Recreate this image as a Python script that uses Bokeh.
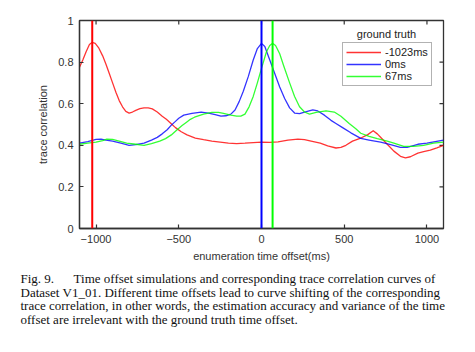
import math
from bokeh.plotting import figure
from bokeh.models import (Span, Label, Legend, LegendItem, Title,
                          FixedTicker, Range1d)
from bokeh.embed import file_html
from bokeh.resources import INLINE

# ---------------- data ----------------
x_ticks = [-1000, -500, 0, 500, 1000]
y_ticks = [0, 0.2, 0.4, 0.6, 0.8, 1]
y_tick_labels = ["0", "0.2", "0.4", "0.6", "0.8", "1"]

series_names = ["-1023ms", "0ms", "67ms"]
ground_truth = [-1023, 0, 67]
colors = ["#ff0000", "#0000ff", "#00ff00"]

red_x = [-1100, -1080, -1060, -1040, -1023, -1005, -985, -960, -940, -920,
         -900, -880, -860, -840, -820, -800, -780, -760, -735, -710, -685,
         -660, -630, -600, -575, -547, -520, -485, -450, -400, -350, -300,
         -250, -200, -150, -100, -50, 0, 50, 100, 160, 220, 260, 300, 355,
         400, 450, 480, 510, 550, 600, 640, 675, 700, 730, 760, 800, 840,
         870, 900, 945, 980, 1020, 1060, 1100]
red_y = [0.775, 0.81, 0.85, 0.885, 0.895, 0.89, 0.87, 0.83, 0.79, 0.745,
         0.70, 0.655, 0.615, 0.585, 0.563, 0.555, 0.56, 0.568, 0.576, 0.58,
         0.58, 0.575, 0.56, 0.54, 0.525, 0.505, 0.485, 0.465, 0.45, 0.435,
         0.427, 0.42, 0.415, 0.41, 0.408, 0.41, 0.413, 0.415, 0.414, 0.416,
         0.425, 0.43, 0.427, 0.42, 0.41, 0.397, 0.387, 0.39, 0.40, 0.42,
         0.435, 0.45, 0.47, 0.455, 0.43, 0.405, 0.372, 0.347, 0.34, 0.345,
         0.362, 0.37, 0.377, 0.388, 0.40]

blue_x = [-1100, -1050, -1000, -970, -940, -900, -850, -800, -760, -710,
          -665, -630, -600, -570, -545, -520, -500, -470, -420, -365, -320,
          -280, -245, -215, -185, -160, -135, -110, -80, -50, -25, 0, 20, 50,
          80, 110, 140, 170, 200, 230, 260, 310, 340, 380, 420, 450, 490, 540,
          600, 650, 720, 780, 840, 880, 945, 1000, 1050, 1100]
blue_y = [0.41, 0.418, 0.428, 0.43, 0.425, 0.42, 0.41, 0.40, 0.403, 0.41,
          0.425, 0.438, 0.455, 0.475, 0.497, 0.515, 0.53, 0.545, 0.553, 0.56,
          0.555, 0.547, 0.54, 0.542, 0.55, 0.57, 0.61, 0.66, 0.73, 0.81,
          0.865, 0.89, 0.875, 0.81, 0.745, 0.68, 0.625, 0.58, 0.555, 0.552,
          0.56, 0.57, 0.565, 0.545, 0.52, 0.505, 0.485, 0.46, 0.433, 0.425,
          0.415, 0.403, 0.39, 0.39, 0.405, 0.41, 0.418, 0.425]

green_x = [-1100, -1050, -1000, -960, -935, -900, -860, -815, -760, -710,
           -665, -615, -580, -545, -510, -480, -455, -430, -405, -350, -300,
           -260, -230, -185, -150, -125, -100, -75, -50, -25, 0, 30, 50, 67,
           85, 110, 135, 170, 200, 230, 260, 290, 330, 390, 440, 480, 530,
           570, 600, 650, 700, 760, 800, 860, 920, 980, 1040, 1100]
green_y = [0.405, 0.41, 0.415, 0.423, 0.43, 0.428, 0.42, 0.41, 0.405, 0.40,
           0.408, 0.42, 0.432, 0.45, 0.475, 0.495, 0.51, 0.525, 0.535, 0.55,
           0.558, 0.558, 0.553, 0.545, 0.54, 0.54, 0.55, 0.585, 0.635, 0.70,
           0.77, 0.85, 0.88, 0.89, 0.88, 0.84, 0.78, 0.70, 0.635, 0.585,
           0.56, 0.55, 0.558, 0.565, 0.56, 0.54, 0.505, 0.48, 0.458, 0.443,
           0.432, 0.42, 0.41, 0.395, 0.395, 0.40, 0.41, 0.415]

caption_lines = [
    "Fig. 9.\u2002\u2002\u2002Time offset simulations and corresponding trace correlation curves of",
    "Dataset V1_01. Different time offsets lead to curve shifting of the corresponding",
    "trace correlation, in other words, the estimation accuracy and variance of the time",
    "offset are irrelevant with the ground truth time offset.",
]

# ---------------- figure ----------------
AX = "#333333"
SANS = "Liberation Sans"

p = figure(width=475, height=352,
           x_range=Range1d(-1100, 1100), y_range=Range1d(0, 1),
           output_backend="svg", toolbar_location=None,
           min_border_left=79, min_border_right=32,
           min_border_top=20, min_border_bottom=124)
p.background_fill_color = "white"
p.border_fill_color = "white"
p.outline_line_color = AX
p.outline_line_width = 1.3
p.xgrid.visible = False
p.ygrid.visible = False


def style_axis(ax, ticks):
    ax.ticker = FixedTicker(ticks=ticks)
    ax.axis_line_color = AX
    ax.axis_line_width = 1.3
    ax.major_tick_line_color = AX
    ax.major_tick_line_width = 1.2
    ax.major_tick_in = 4
    ax.major_tick_out = 0
    ax.minor_tick_line_color = None
    ax.major_label_text_font = SANS
    ax.major_label_text_font_size = "11px"
    ax.major_label_text_color = AX
    ax.major_label_standoff = 6
    ax.axis_label_text_font = SANS
    ax.axis_label_text_font_size = "11px"
    ax.axis_label_text_font_style = "normal"
    ax.axis_label_text_color = AX


xa = p.below[0]
ya = p.left[0]
style_axis(xa, x_ticks)
style_axis(ya, y_ticks)
ya.major_label_overrides = dict(zip(y_ticks, y_tick_labels))
xa.axis_label = "enumeration time offset(ms)"
xa.axis_label_standoff = 4
ya.axis_label = "trace correlation"
ya.axis_label_standoff = 6

# mirrored ticks on the top and right edges (inward, clipped to the frame)
p.scatter(x=x_ticks, y=[p.y_range.end] * len(x_ticks), marker="dash",
          size=8, angle=math.pi / 2, line_color=AX, line_width=1.2)
p.scatter(x=[p.x_range.end] * len(y_ticks), y=y_ticks, marker="dash",
          size=8, line_color=AX, line_width=1.2)

# ground-truth vertical lines
for gt, c in zip(ground_truth, colors):
    p.add_layout(Span(location=gt, dimension="height", line_color=c,
                      line_width=2))

# correlation curves
xs = [red_x, blue_x, green_x]
ys = [red_y, blue_y, green_y]
renderers = []
for x, y, c in zip(xs, ys, colors):
    r = p.line(x, y, line_color=c, line_width=1.3, line_alpha=0.8,
               line_join="round")
    renderers.append(r)

legend = Legend(items=[LegendItem(label=n, renderers=[r])
                       for n, r in zip(series_names, renderers)],
                location=(263, 142),
                glyph_width=35, glyph_height=12, label_height=12,
                label_standoff=4, spacing=0, padding=3, margin=0,
                label_text_font=SANS, label_text_font_size="11px",
                label_text_color="#222222",
                border_line_color="#666666", border_line_width=1,
                background_fill_color="white", background_fill_alpha=1)
p.add_layout(legend, "center")

p.add_layout(Label(x=307, y=195, x_units="screen", y_units="screen",
                   text="ground truth", text_font=SANS,
                   text_font_size="11px", text_color="#222222",
                   text_align="center", text_baseline="middle"))

# caption below the axis (one multi-line title)
p.add_layout(Title(text="\n".join(caption_lines), align="left", offset=-59,
                   standoff=8, text_font="Liberation Serif",
                   text_font_size="13px", text_font_style="normal",
                   text_color="#111111", text_line_height=0.9),
             "below")

open("out.html", "w").write(file_html(p, INLINE))
